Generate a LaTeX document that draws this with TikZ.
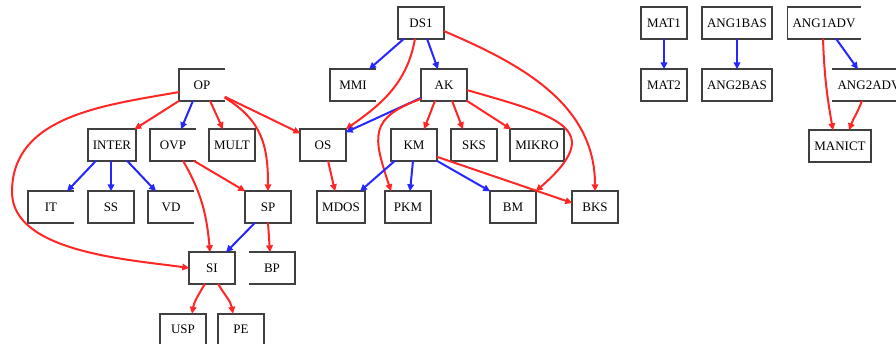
\documentclass[tikz,border=0pt]{standalone}
\usepackage{fontspec}
\setmainfont{Liberation Serif}
\usetikzlibrary{arrows.meta}

\begin{document}
\begin{tikzpicture}[x=1pt,y=1pt,
		lbl/.style={minimum width=45pt,minimum height=31pt,inner xsep=5pt,font=\fontsize{13}{15}\selectfont},
		frame/.style={line width=1.7pt,color=black!75},
		rd/.style={line width=2pt,color=red!85,-{Triangle[length=7pt,width=6.5pt]}},
		bl/.style={line width=2pt,color=blue!85,-{Triangle[length=7pt,width=6.5pt]}}]
			%%%%% START %%%%%
			\useasboundingbox (0,0) rectangle (896,-343);
			
			\node[lbl] (DS1) at (421,-23) {DS1};
			\node[lbl] (MMI) at (353,-85) {MMI};
			\node[lbl] (AK) at (444,-85) {AK};
			\node[lbl] (OS) at (323,-145) {OS};
			\node[lbl] (KM) at (414,-145) {KM};
			\node[lbl] (SKS) at (474,-145) {SKS};
			\node[lbl] (MIKRO) at (537,-145) {MIKRO};
			\node[lbl] (MDOS) at (341,-207) {MDOS};
			\node[lbl] (PKM) at (408,-207) {PKM};
			\node[lbl] (BM) at (513,-207) {BM};
			\node[lbl] (BKS) at (595,-207) {BKS};
			
			\node[lbl] (OP) at (202,-85) {OP};
			\node[lbl] (INTER) at (112,-145) {INTER};
			\node[lbl] (OVP) at (173,-145) {OVP};
			\node[lbl] (MULT) at (232,-145) {MULT};
			\node[lbl] (IT) at (51,-207) {IT};
			\node[lbl] (SS) at (111,-207) {SS};
			\node[lbl] (VD) at (171,-207) {VD};
			\node[lbl] (SP) at (268,-207) {SP};
			\node[lbl] (SI) at (212,-268) {SI};
			\node[lbl] (BP) at (272,-268) {BP};
			\node[lbl] (USP) at (183,-329.5) {USP};
			\node[lbl] (PE) at (241,-329.5) {PE};
			
			\node[lbl] (MAT1) at (664,-23) {MAT1};
			\node[lbl] (ANG1BAS) at (737,-23) {ANG1BAS};
			\node[lbl] (ANG1ADV) at (824,-23) {ANG1ADV};
			\node[lbl] (MAT2) at (664,-85) {MAT2};
			\node[lbl] (ANG2BAS) at (737,-85) {ANG2BAS};
			\node[lbl] (ANG2ADV) at (869,-85) {ANG2ADV};
			\node[lbl] (MANICT) at (840,-146) {MANICT};
			
			% frames, some with a side left out
			\foreach \n in {DS1,AK,OS,KM,SKS,MIKRO,MDOS,PKM,BM,BKS,INTER,MULT,SS,SP,SI,USP,PE,MAT1,MAT2,ANG1BAS,ANG2BAS,MANICT}
				\draw[frame] (\n.north west) rectangle (\n.south east);
			\foreach \n in {OP,OVP,IT,VD,MMI,ANG1ADV}
				\draw[frame] (\n.north east) -- (\n.north west) -- (\n.south west) -- (\n.south east);
			\foreach \n in {BP,ANG2ADV}
				\draw[frame] (\n.north west) -- (\n.north east) -- (\n.south east) -- (\n.south west);
			
			\draw[bl] ([xshift=-17pt]DS1.south) -- ([xshift=16pt]MMI.north);
			\draw[bl] ([xshift=6pt]DS1.south) -- ([xshift=-6pt]AK.north);
			\draw[rd] ([xshift=-6pt]DS1.south) to[out=-100,in=35] (OS.north east);
			\draw[rd] ([yshift=-8pt]DS1.east) to[out=-23,in=90] (BKS.north);
			
			\draw[bl] ([yshift=3pt]AK.south west) -- ([yshift=-3pt]OS.north east);
			\draw[rd] ([xshift=-9pt]AK.south) -- ([xshift=10pt]KM.north);
			\draw[rd] ([xshift=8pt]AK.south) -- ([xshift=-11pt]SKS.north);
			\draw[rd] (AK.south east) -- ([xshift=1pt]MIKRO.north west);
			\draw[rd] ([yshift=2pt]AK.south west) to[out=-160,in=108,looseness=1.5] ([xshift=-17pt]PKM.north);
			\draw[rd] ([yshift=-5pt]AK.east) to[out=-16,in=41,looseness=2] (BM.north east);
			
			\draw[rd] ([xshift=5pt]OS.south) -- ([xshift=-6pt]MDOS.north);
			\draw[bl] ([xshift=-19pt]KM.south) -- ([xshift=19pt]MDOS.north);
			\draw[bl] ([xshift=-1pt]KM.south) -- ([xshift=2pt]PKM.north);
			\draw[bl] (KM.south east) -- (BM.north west);
			\draw[rd] ([yshift=4pt]KM.south east) -- ([yshift=4pt]BKS.west);
			
			\draw[rd] (OP.south west) -- ([xshift=-2pt]INTER.north east);
			\draw[bl] ([xshift=-9pt]OP.south) -- ([xshift=8pt]OVP.north);
			\draw[rd] ([xshift=8pt]OP.south) -- ([xshift=-9pt]MULT.north);
			\draw[rd] ([yshift=4pt]OP.south east) -- ([yshift=-4pt]OS.north west);
			\draw[rd] ([yshift=3pt]OP.south east) to[out=-31,in=90,looseness=1.1] (SP.north);
			\coordinate (sweep) at (12,-192);
			\draw[rd] ([yshift=-7pt]OP.west) to[out=190,in=90] (sweep) to[out=-90,in=172,looseness=0.8] (SI.west);
			
			\draw[bl] ([xshift=-16pt]INTER.south) -- ([xshift=16pt]IT.north);
			\draw[bl] ([xshift=-1pt]INTER.south) -- (SS.north);
			\draw[bl] ([xshift=15pt]INTER.south) -- ([xshift=-15pt]VD.north);
			\draw[rd] ([xshift=10pt]OVP.south) to[out=-60,in=95] ([xshift=-2pt]SI.north);
			\draw[rd] ([xshift=-2pt]OVP.south east) -- (SP.north west);
			\draw[bl] ([xshift=-13pt]SP.south) -- ([xshift=14pt]SI.north);
			\draw[rd] (SP.south) -- ([xshift=-2pt]BP.north);
			\draw[rd] ([xshift=-7pt]SI.south) to[out=-120,in=80] ([xshift=9pt]USP.north);
			\draw[rd] ([xshift=6pt]SI.south) to[out=-60,in=100] ([xshift=-8pt]PE.north);
			
			\draw[bl] (MAT1.south) -- (MAT2.north);
			\draw[bl] (ANG1BAS.south) -- (ANG2BAS.north);
			\draw[bl] ([xshift=12pt]ANG1ADV.south) -- ([xshift=-11pt]ANG2ADV.north);
			\draw[rd] ([xshift=-1pt]ANG1ADV.south) to[out=-88,in=100] ([xshift=-7pt]MANICT.north);
			\draw[rd] ([xshift=-7pt]ANG2ADV.south) to[out=-110,in=70] ([xshift=9pt]MANICT.north);
			
			%%%%% END %%%%%
		\end{tikzpicture}
\end{document}
